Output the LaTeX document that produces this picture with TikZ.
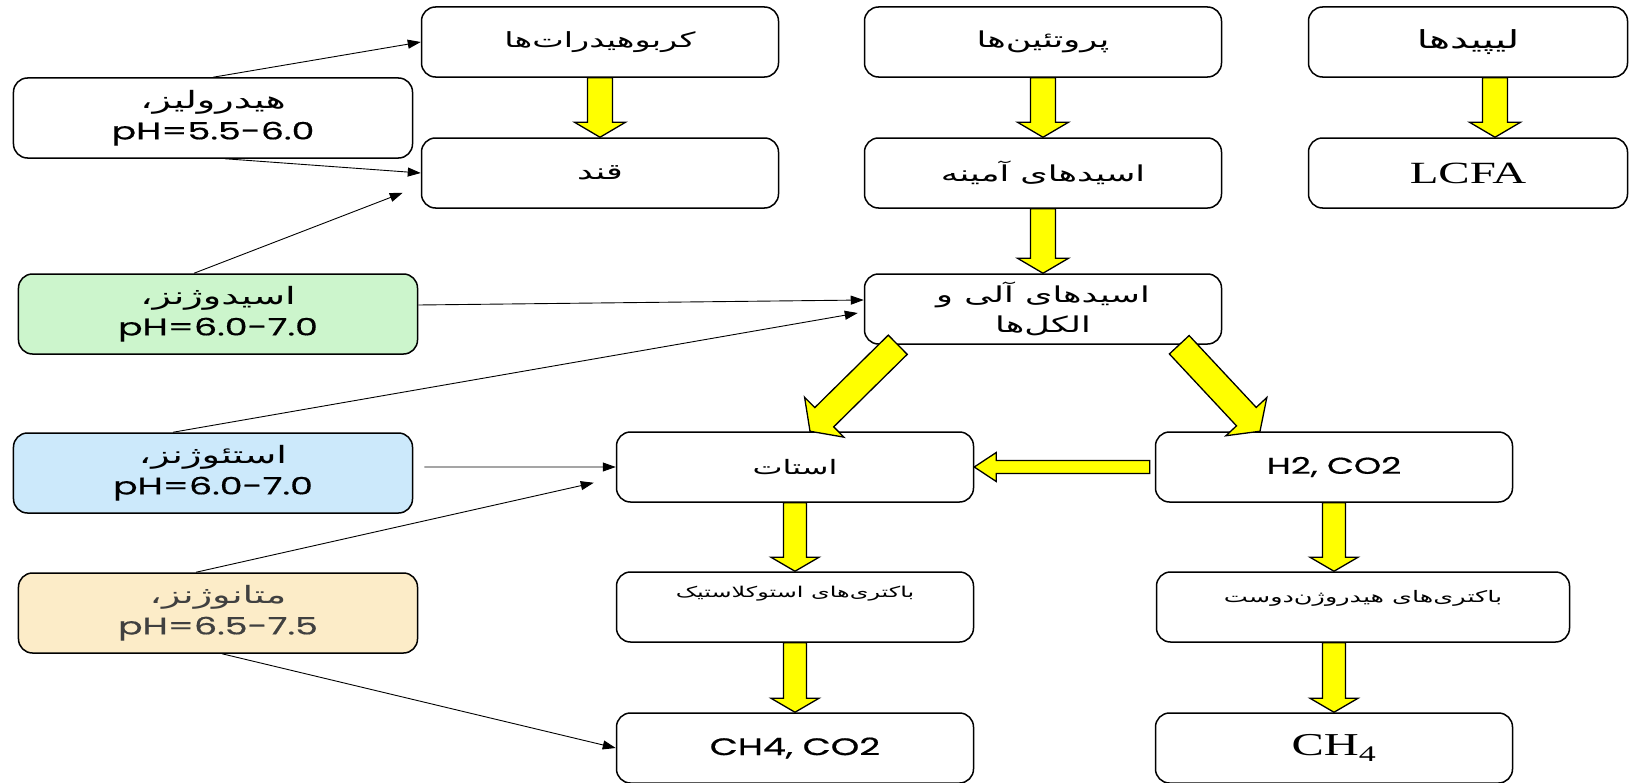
\documentclass[tikz,border=0pt]{standalone}
\usepackage{fontspec}
\usetikzlibrary{calc,arrows.meta}
\TeXXeTstate=1
\newfontfamily\fafont[Script=Arabic,FakeStretch=1.6]{DejaVu Sans}
\newfontfamily\latfont[FakeStretch=1.52,FakeBold=0.6]{Poppins}
\newfontfamily\serfont[FakeStretch=1.52]{Liberation Serif}
\newcommand{\prs}[1]{{\fafont\beginR #1\endR}}
\definecolor{acidgreen}{RGB}{204,245,204}
\definecolor{acetoblue}{RGB}{204,233,251}
\definecolor{methbeige}{RGB}{252,236,200}
\definecolor{arrowyellow}{RGB}{255,255,0}
\newcommand{\fatarrow}[5]{%
  \coordinate (fa) at (#1);
  \coordinate (fb) at (#2);
  \coordinate (fc) at ($(fb)!#5!(fa)$);
  \draw[fat] ($(fa)!#3!90:(fb)$) -- ($(fc)!#3!90:(fb)$) -- ($(fc)!#4!90:(fb)$) -- (fb)
    -- ($(fc)!#4!-90:(fb)$) -- ($(fc)!#3!-90:(fb)$) -- ($(fa)!#3!-90:(fb)$) -- cycle;
}
\begin{document}
\begin{tikzpicture}[
    x=1bp, y=-1bp,
    box/.style={rectangle, rounded corners=14bp, draw, line width=1.5bp, minimum width=357bp, minimum height=70bp, align=center, inner sep=2bp, font=\fontsize{22}{30}\selectfont},
    stage/.style={box, minimum width=399bp, minimum height=80bp, font=\fontsize{24}{31}\selectfont},
    arrow/.style={-{Triangle[length=13bp,width=9bp]}, line width=0.9bp},
    fat/.style={draw=black, fill=arrowyellow, line width=1.3bp, line join=miter}
]
    \useasboundingbox (0,0) rectangle (1635,783);

    \node[box, font=\fontsize{21}{30}\selectfont] (carb) at (600,42) {\prs{کربوهیدرات‌ها}};
    \node[box] (ghand) at (600,173) {\prs{قند}};
    \node[box] (prot) at (1043,42) {\prs{پروتئین‌ها}};
    \node[box] (amino) at (1043,173) {\prs{اسیدهای آمینه}};
    \node[box] (organic) at (1043,309) {\prs{اسیدهای آلی و}\\\prs{الکل‌ها}};
    \node[box, minimum width=319bp, font=\fontsize{25}{30}\selectfont] (lipid) at (1468,42) {\prs{لیپیدها}};
    \node[box, minimum width=319bp, font=\serfont\fontsize{31}{36}\selectfont] (lcfa) at (1468,173) {LCFA};
    \node[box, font=\fontsize{20}{20}\selectfont] (acetate) at (795,467) {\prs{استات}};
    \node[box, font=\latfont\fontsize{23}{28}\selectfont] (h2) at (1334,467) {H2, CO2};
    \node[box, font=\fontsize{15}{20}\selectfont, text height=12bp, text depth=32bp] (aclast) at (795,607) {\prs{باکتری‌های استوکلاستیک}};
    \node[box, minimum width=413bp, font=\fontsize{16}{24}\selectfont, text height=12bp, text depth=22bp] (hydro) at (1363,607) {\prs{باکتری‌های هیدروژن‌دوست}};
    \node[box, font=\latfont\fontsize{24}{28}\selectfont] (ch4co2) at (795,748) {CH4, CO2};
    \node[box, font=\serfont\fontsize{32}{36}\selectfont] (ch4) at (1334,748) {CH\textsubscript{4}};

    \node[stage] (hydrol) at (213,118) {\prs{هیدرولیز،}\\{\latfont pH=5.5-6.0}};
    \node[stage, fill=acidgreen] (acido) at (218,314) {\prs{اسیدوژنز،}\\{\latfont pH=6.0-7.0}};
    \node[stage, fill=acetoblue] (aceto) at (213,473) {\prs{استئوژنز،}\\{\latfont pH=6.0-7.0}};
    \node[stage, fill=methbeige, text=black!75] (metha) at (218,613) {\prs{متانوژنز،}\\{\latfont pH=6.5-7.5}};

    \fatarrow{carb.south}{ghand.north}{12.5bp}{25.5bp}{15bp}
    \fatarrow{prot.south}{amino.north}{12.5bp}{25.5bp}{15bp}
    \fatarrow{[xshift=27bp]lipid.south}{[xshift=27bp]lcfa.north}{12.5bp}{25.5bp}{15bp}
    \fatarrow{amino.south}{organic.north}{12.5bp}{25.5bp}{15bp}
    \fatarrow{[xshift=34bp]organic.south west}{[xshift=15bp]acetate.north}{13.5bp}{28bp}{20bp}
    \fatarrow{[xshift=-43bp]organic.south east}{[xshift=-74bp]h2.north}{13.5bp}{28bp}{20bp}
    \fatarrow{[xshift=-5bp]h2.west}{acetate.east}{6.5bp}{14.5bp}{22bp}
    \fatarrow{acetate.south}{aclast.north}{11.5bp}{24bp}{14bp}
    \fatarrow{aclast.south}{ch4co2.north}{11.5bp}{24bp}{14bp}
    \fatarrow{h2.south}{h2.south |- hydro.north}{11.5bp}{24bp}{14bp}
    \fatarrow{h2.south |- hydro.south}{ch4.north}{11.5bp}{24bp}{14bp}

    \draw[arrow] (hydrol.north) -- (carb.west);
    \draw[arrow] ([xshift=12bp]hydrol.south) -- (ghand.west);
    \draw[arrow] ([xshift=-24bp]acido.north) -- ([xshift=-18bp,yshift=16bp]ghand.south west);
    \draw[arrow] ([yshift=9bp]acido.east) -- ([yshift=9bp]organic.west);
    \draw[arrow] ([xshift=-40bp]aceto.north) -- ([xshift=-6bp,yshift=-4bp]organic.west);
    \draw[arrow] ([xshift=11bp,yshift=6bp]aceto.east) -- (acetate.west);
    \draw[arrow] ([xshift=-22bp]metha.north) -- ([xshift=-22bp,yshift=20bp]acetate.south west);
    \draw[arrow] ([xshift=4bp]metha.south) -- (ch4co2.west);
\end{tikzpicture}
\end{document}
